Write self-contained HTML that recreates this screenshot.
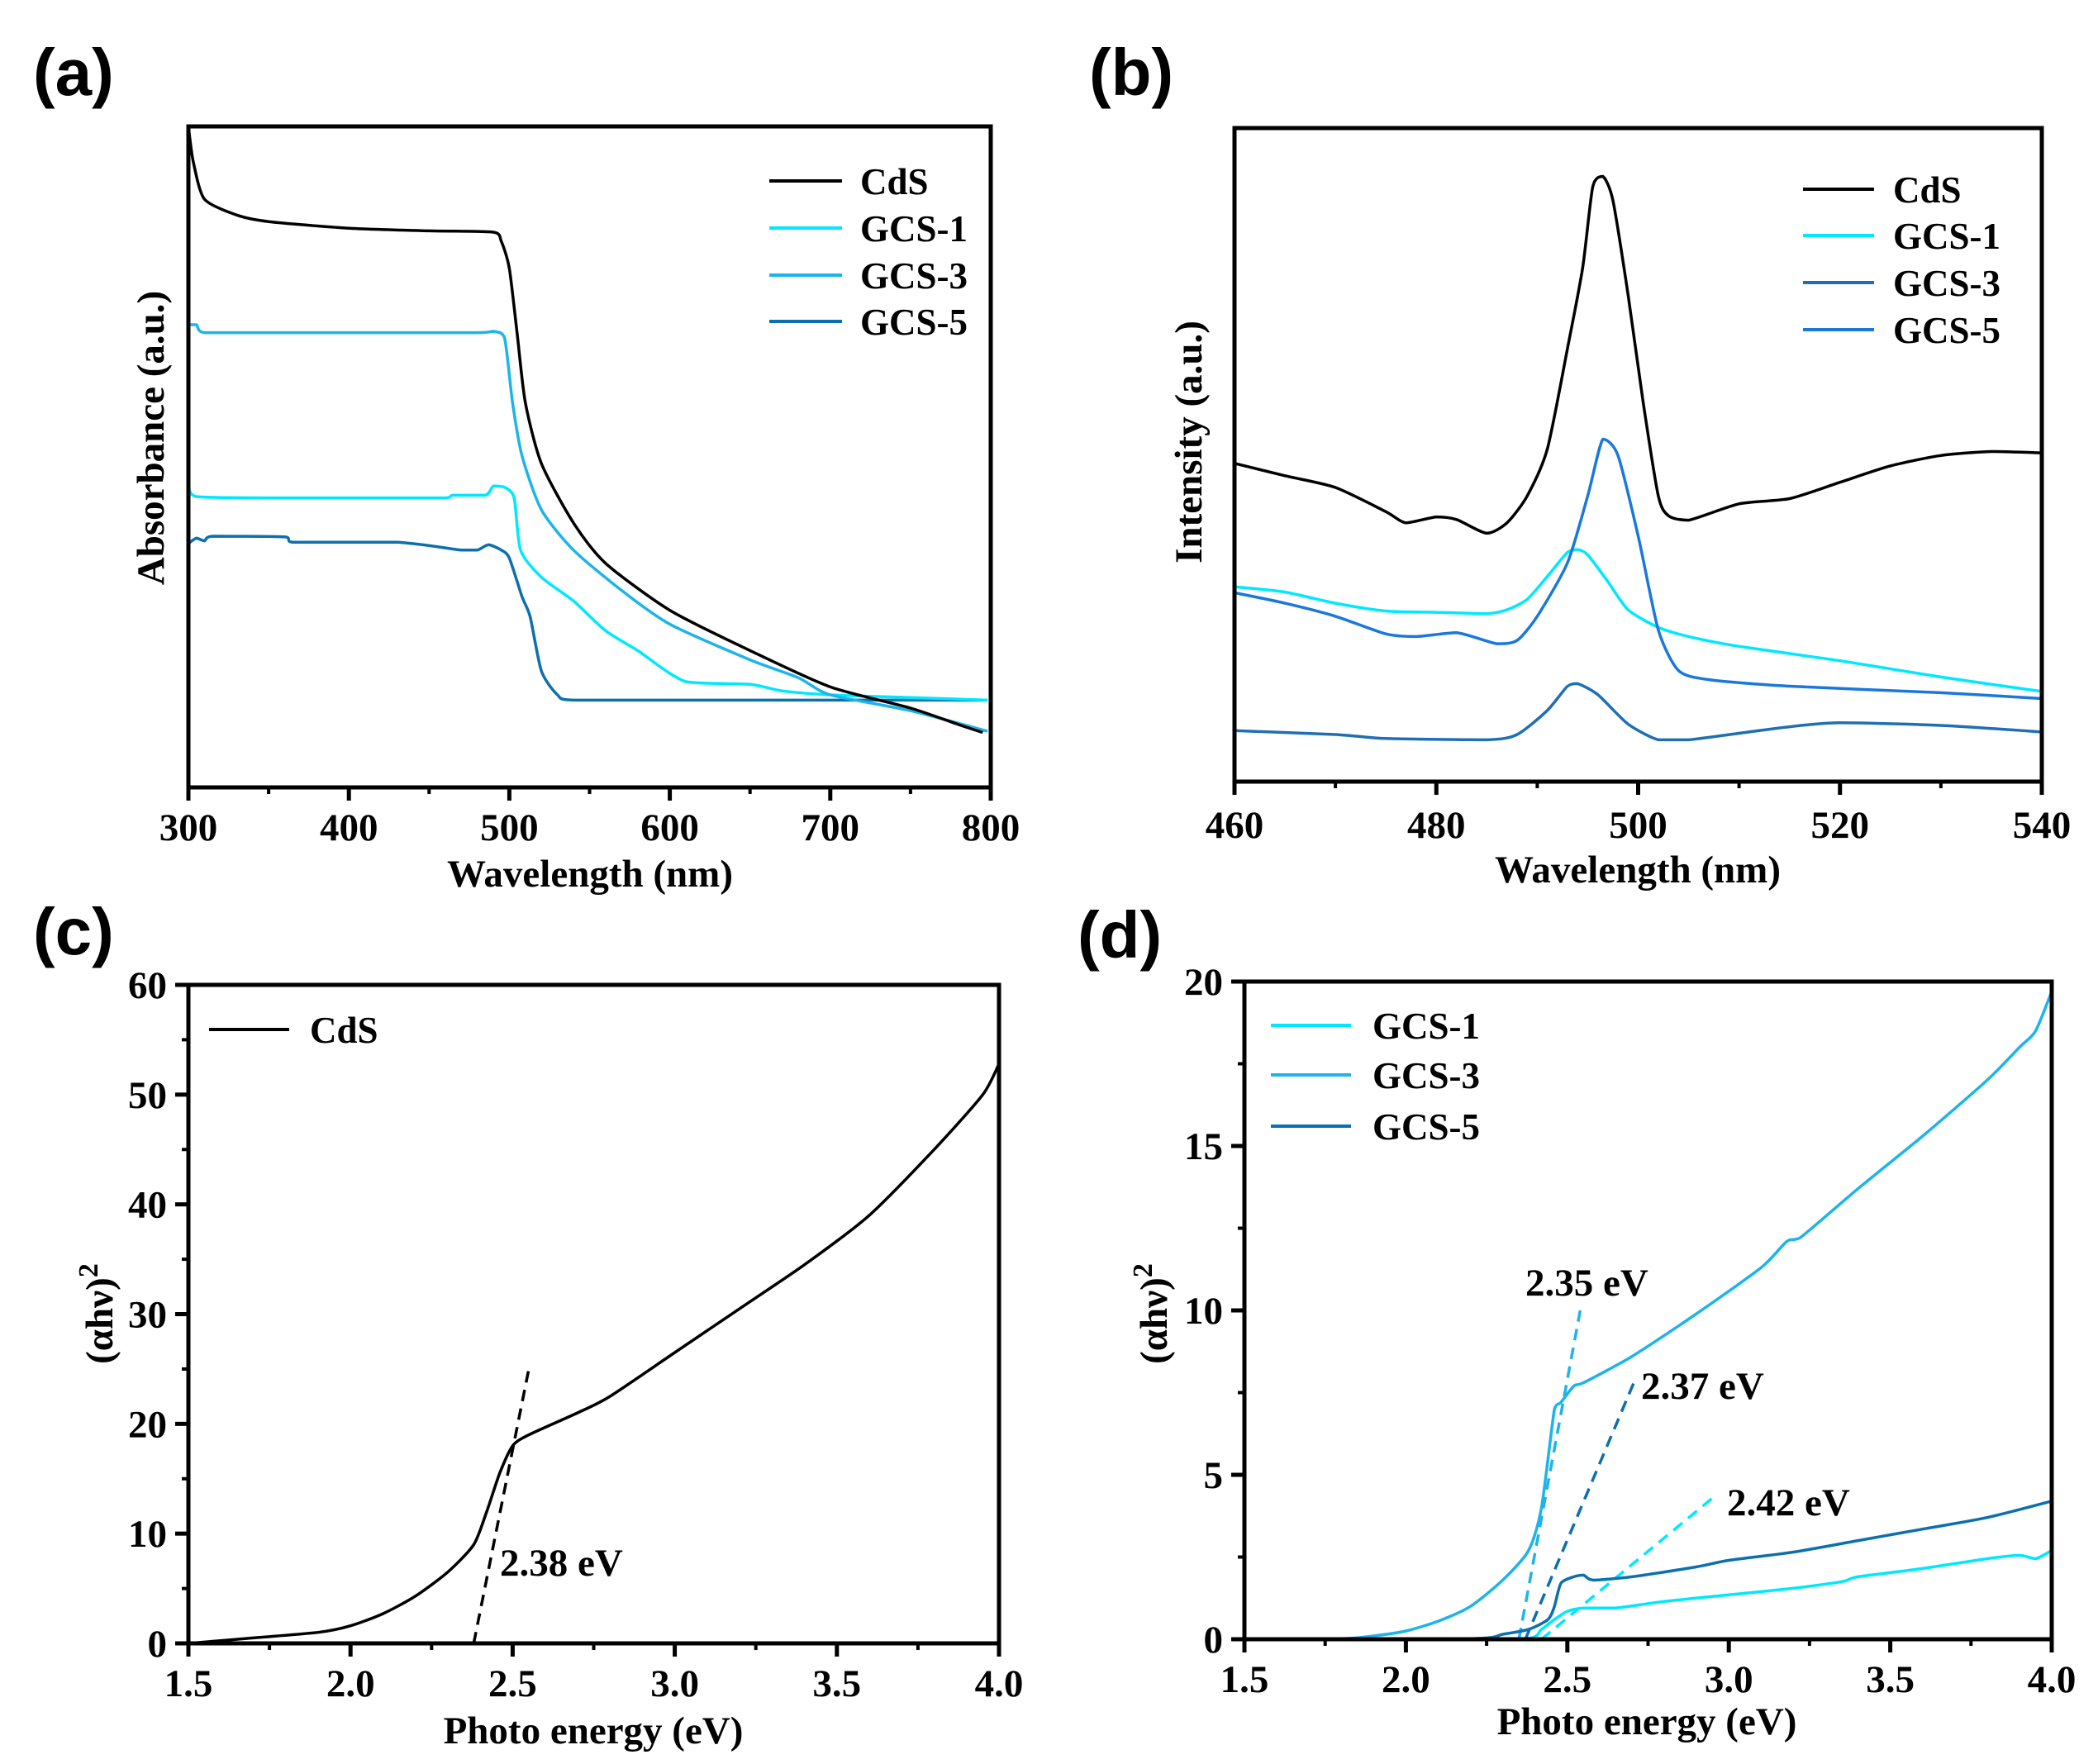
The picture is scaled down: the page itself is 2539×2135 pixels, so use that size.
<!DOCTYPE html>
<html><head><meta charset="utf-8">
<style>
html,body{margin:0;padding:0;background:#fff;}
svg{display:block;}
text{font-family:"Liberation Serif",serif;font-weight:bold;fill:#000;}
.lbl{font-family:"Liberation Sans",sans-serif;font-weight:bold;}
</style></head>
<body>
<svg id="fig" width="2539" height="2135" viewBox="0 0 2539 2135" xmlns="http://www.w3.org/2000/svg"></svg>
<script>
// ---------- Panel (a) data ----------
const aCdsX=[300,303,310,330,350,400,450,490,495,500,505,510,520,540,560,600,650,700,750,780,795];
const aCdsY=[100,94.7,89,86.6,85.6,84.6,84.2,84,82.6,78.5,68.4,58.2,49,40,33.9,26.8,20.7,15.2,12,9.5,8.3];
const aG3X=[300,305,310,400,480,490,497,502,508,520,540,570,600,650,680,700,750,798];
const aG3Y=[70,70,68.8,68.8,68.8,69,68,58.2,50.1,42,35.9,29.8,24.7,19.3,16.6,14,11.6,8.5];
const aG1X=[300,305,350,460,465,485,490,497,503,507,520,540,560,580,610,650,670,700,750,798];
const aG1Y=[45.6,44,43.8,43.8,44.2,44.2,45.6,45.4,43.8,35.9,31.8,28.2,23.7,20.7,16,15.6,14.6,14,13.6,13.2];
const aG5X=[300,305,310,315,360,365,430,470,480,487,495,500,508,513,520,530,540,798];
const aG5Y=[36.9,37.7,37.3,38,37.9,37.1,37.1,35.9,35.9,36.7,35.9,34.7,28.8,25.8,17.6,14,13.2,13.2];
const aXTicks=[300,400,500,600,700,800];
// ---------- Panel (b) data ----------
const bCdsX=[460,465,470,475,477,480,482,485,487,489,491,493,494.5,495.5,496.5,497.5,499,500.5,502,503,505,510,515,520,525,530,535,540];
const bCdsY=[48.7,46.8,45,41.3,39.6,40.5,40.1,38,39.6,43.7,50.9,66.3,78.6,91,92.6,88.9,74.5,58,43.7,40.7,40,42.5,43.3,45.8,48.3,49.9,50.5,50.3];
const bG1X=[460,465,470,475,480,485,487,489,491,493,494,495,497,499,502,505,510,520,530,540];
const bG1Y=[29.8,29,27.3,26.1,25.9,25.7,26.3,27.9,31.4,35.1,35.5,34.7,30.6,26.3,23.6,22.2,20.7,18.5,16,13.8];
const bG5X=[460,465,470,475,478,482,486,488,490,493,495,496.5,498,500,502,504,507,515,530,540];
const bG5Y=[28.9,27.3,25.3,22.6,22.2,22.8,21.1,21.6,25.3,33.5,43.7,52.4,49.9,37.6,23.2,17,15.6,14.6,13.6,12.7];
const bG3X=[460,470,475,485,488,491,493,494,496,499,502,505,510,515,520,530,540];
const bG3Y=[7.8,7.2,6.6,6.4,7.2,10.9,14.6,15,13.3,8.8,6.4,6.4,7.4,8.4,9,8.6,7.6];
const bXTicks=[460,480,500,520,540];
// ---------- Panel (c) data ----------
const cX=[1.5,1.7,1.9,2.0,2.1,2.2,2.3,2.38,2.42,2.46,2.5,2.55,2.7,2.8,3.0,3.2,3.4,3.6,3.8,3.95,4.0];
const cY=[0,0.5,1,1.6,2.7,4.3,6.5,9,12,15.5,18,19,21,22.5,26.5,30.5,34.5,39,45,50,52.8];
const cFitX=[2.38,2.55];
const cFitY=[0,25];
const cXTicks=[1.5,2.0,2.5,3.0,3.5,4.0];
const cYTicks=[0,10,20,30,40,50,60];
// ---------- Panel (d) data ----------
const dG3X=[1.5,1.8,1.9,2.0,2.1,2.2,2.3,2.38,2.42,2.46,2.48,2.52,2.55,2.7,2.9,3.1,3.18,3.22,3.4,3.6,3.8,3.9,3.95,4.0];
const dG3Y=[0,0.02,0.1,0.25,0.55,1.0,1.8,2.7,4.0,7.0,7.2,7.7,7.8,8.6,9.9,11.3,12.1,12.2,13.7,15.3,17.0,18.0,18.5,19.7];
const dG5X=[1.5,2.2,2.3,2.38,2.44,2.46,2.48,2.52,2.55,2.58,2.7,2.9,3.0,3.2,3.4,3.6,3.8,4.0];
const dG5Y=[0,0.02,0.15,0.3,0.6,1.0,1.7,1.9,1.95,1.8,1.9,2.2,2.4,2.65,3.0,3.35,3.7,4.2];
const dG1X=[1.5,2.36,2.42,2.46,2.5,2.55,2.65,2.8,3.0,3.2,3.35,3.4,3.6,3.8,3.9,3.95,4.0];
const dG1Y=[0,0,0.3,0.6,0.85,0.95,0.95,1.15,1.35,1.55,1.75,1.9,2.15,2.45,2.55,2.45,2.7];
const dFit3X=[2.35,2.54], dFit3Y=[0,10];
const dFit5X=[2.37,2.71], dFit5Y=[0,7.9];
const dFit1X=[2.42,2.95], dFit1Y=[0,4.3];
const dXTicks=[1.5,2.0,2.5,3.0,3.5,4.0];
const dYTicks=[0,5,10,15,20];

const NS="http://www.w3.org/2000/svg";
const svg=document.getElementById('fig');
function mk(tag,attrs,parent){const e=document.createElementNS(NS,tag);for(const k in attrs)e.setAttribute(k,attrs[k]);(parent||svg).appendChild(e);return e;}
function txt(s,attrs,parent){const e=mk('text',attrs,parent);e.textContent=s;return e;}

function axes(box,x0,x1,y0,y1){
  return {sx:v=>box.l+(v-x0)/(x1-x0)*(box.r-box.l), sy:v=>box.b-(v-y0)/(y1-y0)*(box.b-box.t)};
}
function clamp(v,a,b){const lo=Math.min(a,b),hi=Math.max(a,b);return Math.max(lo,Math.min(hi,v));}
function line(g,ax,xs,ys,color,w,dash){
  const P=xs.map((x,i)=>[ax.sx(x),ax.sy(ys[i])]);
  let d='M'+P[0][0].toFixed(1)+','+P[0][1].toFixed(1);
  if(dash||P.length<3){for(let i=1;i<P.length;i++)d+='L'+P[i][0].toFixed(1)+','+P[i][1].toFixed(1);}
  else{
    for(let i=0;i<P.length-1;i++){
      const p0=P[Math.max(0,i-1)],p1=P[i],p2=P[i+1],p3=P[Math.min(P.length-1,i+2)];
      const t=0.12;
      const c1=[clamp(p1[0]+(p2[0]-p0[0])*t,p1[0],p2[0]),clamp(p1[1]+(p2[1]-p0[1])*t,p1[1],p2[1])];
      const c2=[clamp(p2[0]-(p3[0]-p1[0])*t,p1[0],p2[0]),clamp(p2[1]-(p3[1]-p1[1])*t,p1[1],p2[1])];
      d+='C'+c1[0].toFixed(1)+','+c1[1].toFixed(1)+' '+c2[0].toFixed(1)+','+c2[1].toFixed(1)+' '+p2[0].toFixed(1)+','+p2[1].toFixed(1);
    }
  }
  const p=mk('path',{d:d,fill:'none',stroke:color,'stroke-width':w,'stroke-linejoin':'round'},g);
  if(dash)p.setAttribute('stroke-dasharray',dash);
  return p;
}
function frame(g,box,ax,xt,yt,xfmt,yfmt,xlabY){
  const f=mk('rect',{x:box.l,y:box.t,width:box.r-box.l,height:box.b-box.t,fill:'none',stroke:'#000','stroke-width':5},g);
  
  
  xt.forEach((v,i)=>{
    const x=ax.sx(v);
    mk('line',{x1:x,y1:box.b,x2:x,y2:box.b+16,stroke:'#000','stroke-width':5},g);
    if(i<xt.length-1){const xm=ax.sx((v+xt[i+1])/2);mk('line',{x1:xm,y1:box.b,x2:xm,y2:box.b+8,stroke:'#000','stroke-width':4},g);}
    const t=txt(xfmt(v),{x:x,y:xlabY,'font-size':47,'text-anchor':'middle'},g);
    
    
  });
  if(yt){yt.forEach((v,i)=>{
    const y=ax.sy(v);
    mk('line',{x1:box.l,y1:y,x2:box.l-16,y2:y,stroke:'#000','stroke-width':5},g);
    if(i<yt.length-1){const ym=ax.sy((v+yt[i+1])/2);mk('line',{x1:box.l,y1:ym,x2:box.l-8,y2:ym,stroke:'#000','stroke-width':4},g);}
    const t=txt(yfmt(v),{x:box.l-26,y:y+16,'font-size':47,'text-anchor':'end'},g);
    
    
  });}
}
function legend(g,x1,x2,tx,items){
  items.forEach(it=>{
    const le=mk('g',{},g);
    
    
    mk('line',{x1:x1,y1:it[2],x2:x2,y2:it[2],stroke:it[1],'stroke-width':4},le);
    txt(it[0],{x:tx,y:it[2]+16,'font-size':45},le);
  });
}
function ytitle(g,s,x,y){const t=txt(s,{x:x,y:y,'font-size':47,'text-anchor':'middle',transform:'rotate(-90 '+x+' '+y+')'},g);return t;}
function xtitle(g,s,x,y){const t=txt(s,{x:x,y:y,'font-size':47,'text-anchor':'middle'},g);}
function plabel(s,x,y){const t=txt(s,{x:x,y:y,'font-size':80,'class':'lbl'});}

const CY='#00e8ff', LB='#1cb4ea', DB='#0c6fae', BB='#1a78dc', MB='#1f6fb4';

// ---- Panel a
{const g=mk('g',{});
 const box={l:228,r:1199,t:153,b:953};const ax=axes(box,300,800,0,100);
 line(g,ax,aG5X,aG5Y,DB,3.5);line(g,ax,aG1X,aG1Y,CY,3.5);line(g,ax,aG3X,aG3Y,LB,3.5);line(g,ax,aCdsX,aCdsY,'#000',3.5);
 frame(g,box,ax,aXTicks,null,v=>String(v),null,1017);
 legend(g,931,1019,1041,[['CdS','#000',219],['GCS-1',CY,276],['GCS-3',LB,333],['GCS-5',DB,389]]);
 xtitle(g,'Wavelength (nm)',714,1073);ytitle(g,'Absorbance (a.u.)',198,530);}
plabel('(a)',40,115);
// ---- Panel b
{const g=mk('g',{});
 const box={l:1494,r:2471,t:155,b:946};const ax=axes(box,460,540,0,100);
 line(g,ax,bG3X,bG3Y,MB,3.5);line(g,ax,bG1X,bG1Y,CY,3.5);line(g,ax,bG5X,bG5Y,BB,3.5);line(g,ax,bCdsX,bCdsY,'#000',3.5);
 frame(g,box,ax,bXTicks,null,v=>String(v),null,1014);
 legend(g,2182,2268,2291,[['CdS','#000',229],['GCS-1',CY,285],['GCS-3',MB,342],['GCS-5',BB,399]]);
 xtitle(g,'Wavelength (nm)',1982,1068);ytitle(g,'Intensity (a.u.)',1454,535);}
plabel('(b)',1318,115);
// ---- Panel c
{const g=mk('g',{});
 const box={l:228,r:1209,t:1192,b:1989};const ax=axes(box,1.5,4.0,0,60);
 line(g,ax,cFitX,cFitY,'#000',3.5,'14,9');line(g,ax,cX,cY,'#000',3.5);
 frame(g,box,ax,cXTicks,cYTicks,v=>v.toFixed(1),v=>String(v),2053);
 legend(g,253,350,375,[['CdS','#000',1246]]);
 const a=txt('2.38 eV',{x:605,y:1907,'font-size':47},g);
 xtitle(g,'Photo energy (eV)',718,2110);
 const t=ytitle(g,'(αhν)',136,1590);const s=mk('tspan',{dy:-18,'font-size':34},t);s.textContent='2';}
plabel('(c)',40,1155);
// ---- Panel d
{const g=mk('g',{});
 const box={l:1506,r:2483,t:1188,b:1984};const ax=axes(box,1.5,4.0,0,20);
 line(g,ax,dFit3X,dFit3Y,LB,3.5,'14,9');line(g,ax,dFit5X,dFit5Y,DB,3.5,'14,9');line(g,ax,dFit1X,dFit1Y,CY,3.5,'14,9');
 line(g,ax,dG1X,dG1Y,CY,3.5);line(g,ax,dG5X,dG5Y,DB,3.5);line(g,ax,dG3X,dG3Y,LB,3.5);
 frame(g,box,ax,dXTicks,dYTicks,v=>v.toFixed(1),v=>String(v),2048);
 legend(g,1538,1635,1661,[['GCS-1',CY,1241],['GCS-3',LB,1301],['GCS-5',DB,1363]]);
 [['2.35 eV',1846,1568],['2.37 eV',1986,1693],['2.42 eV',2090,1834]].forEach(a=>{const e=txt(a[0],{x:a[1],y:a[2],'font-size':47},g);});
 xtitle(g,'Photo energy (eV)',1993,2099);
 const t=ytitle(g,'(αhν)',1412,1590);const s=mk('tspan',{dy:-18,'font-size':34},t);s.textContent='2';}
plabel('(d)',1304,1159);
</script>
</body></html>
